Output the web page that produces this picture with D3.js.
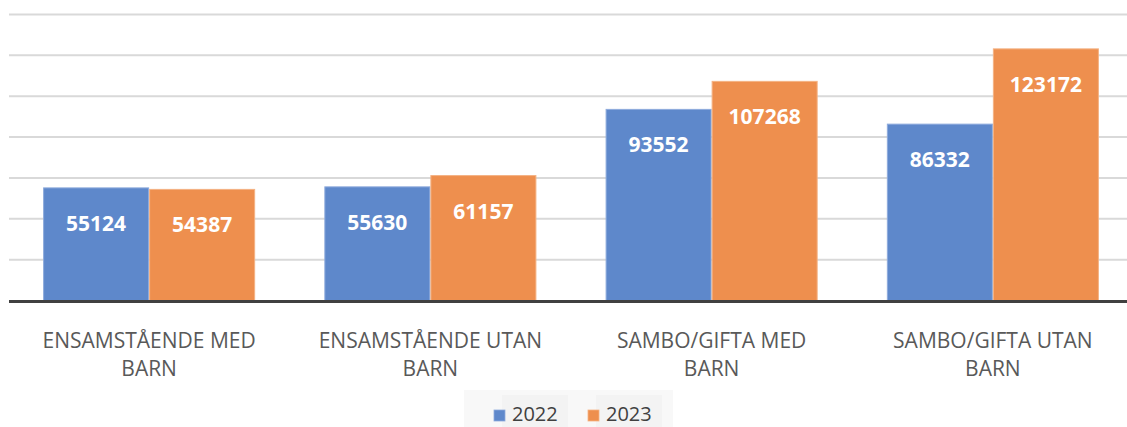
<!DOCTYPE html>
<html>
<head>
<meta charset="utf-8">
<script src="https://cdn.jsdelivr.net/npm/d3@7/dist/d3.min.js"></script>
<style>
  html, body { margin: 0; padding: 0; background: #fff; }
  svg { display: block; }
</style>
</head>
<body>
<div id="chart"></div>
<script>
const categories = [
  ["ENSAMSTÅENDE MED", "BARN"],
  ["ENSAMSTÅENDE UTAN", "BARN"],
  ["SAMBO/GIFTA MED", "BARN"],
  ["SAMBO/GIFTA UTAN", "BARN"]
]
const series = ["2022", "2023"]
const values2022 = [55124, 55630, 93552, 86332]
const values2023 = [54387, 61157, 107268, 123172]
const yTicks = [0, 20000, 40000, 60000, 80000, 100000, 120000, 140000]

const width = 1127
const height = 427
const colors = { "2022": "#5e88cb", "2023": "#ee8f4e" }
const borders = { "2022": "#8eabdc", "2023": "#f4b283" }

const svg = d3.select("#chart")
  .append("svg")
  .attr("width", width)
  .attr("height", height)

const keys = categories.map((c, i) => i)

// Scales
const x0 = d3.scaleBand()
  .domain(keys)
  .range([8.5, 1133.5])

const bw = x0.bandwidth()
const x1 = d3.scaleBand()
  .domain(series)
  .range([bw * 0.123, bw * 0.877])

const y = d3.scaleLinear()
  .domain([0, 140000])
  .range([300.5, 14.5])

// Gridlines
svg.append("g")
  .selectAll("line")
  .data(yTicks.slice(1))
  .join("line")
  .attr("x1", 9)
  .attr("x2", width)
  .attr("y1", d => y(d))
  .attr("y2", d => y(d))
  .attr("stroke", "#d9d9d9")
  .attr("stroke-width", 2)

// Bars
const rows = keys.map(i => ({ i, "2022": values2022[i], "2023": values2023[i] }))

const group = svg.append("g")
  .selectAll("g")
  .data(rows)
  .join("g")
  .attr("transform", d => `translate(${x0(d.i)},0)`)

const cells = group.selectAll("g")
  .data(d => series.map(s => ({ s, v: d[s] })))
  .join("g")

cells.append("rect")
  .attr("x", d => x1(d.s) + 0.5)
  .attr("y", d => y(d.v))
  .attr("width", x1.bandwidth() - 1)
  .attr("height", d => y(0) - y(d.v))
  .attr("fill", d => colors[d.s])
  .attr("stroke", d => borders[d.s])
  .attr("stroke-width", 1)

// Data labels inside end
cells.append("text")
  .attr("x", d => x1(d.s) + x1.bandwidth() / 2)
  .attr("y", d => y(d.v) + 43)
  .attr("text-anchor", "middle")
  .attr("font-family", "'Open Sans', sans-serif")
  .attr("font-weight", "bold")
  .attr("font-size", "21px")
  .attr("fill", "#fff")
  .text(d => d.v)

// Baseline
svg.append("line")
  .attr("x1", 9)
  .attr("x2", width)
  .attr("y1", y(0) + 1)
  .attr("y2", y(0) + 1)
  .attr("stroke", "#404040")
  .attr("stroke-width", 3)

// Category labels
const catLabel = svg.append("g")
  .selectAll("text")
  .data(keys)
  .join("text")
  .attr("text-anchor", "middle")
  .attr("font-family", "'Open Sans', sans-serif")
  .attr("font-size", "21px")
  .attr("fill", "#595959")

catLabel.selectAll("tspan")
  .data(d => categories[d].map(t => ({ t, d })))
  .join("tspan")
  .attr("x", d => x0(d.d) + bw / 2)
  .attr("y", (d, j) => 348 + j * 28)
  .text(d => d.t)

// Legend
const legend = svg.append("g")
legend.append("rect")
  .attr("x", 464).attr("y", 390)
  .attr("width", 209).attr("height", 37)
  .attr("fill", "#f8f8f8")

const legendX = [494, 588]
const item = legend.selectAll("g")
  .data(series)
  .join("g")
  .attr("transform", (d, i) => `translate(${legendX[i]},0)`)

item.append("rect")
  .attr("x", 8).attr("y", 395)
  .attr("width", 66).attr("height", 32)
  .attr("fill", "#f3f3f3")

item.append("rect")
  .attr("x", 0).attr("y", 410)
  .attr("width", 11).attr("height", 11)
  .attr("fill", d => colors[d])
  .attr("stroke", d => borders[d])
  .attr("stroke-width", 0.8)

item.append("text")
  .attr("x", 18)
  .attr("y", 421)
  .attr("font-family", "'Open Sans', sans-serif")
  .attr("font-size", "20px")
  .attr("fill", "#404040")
  .text(d => d)
</script>
</body>
</html>
